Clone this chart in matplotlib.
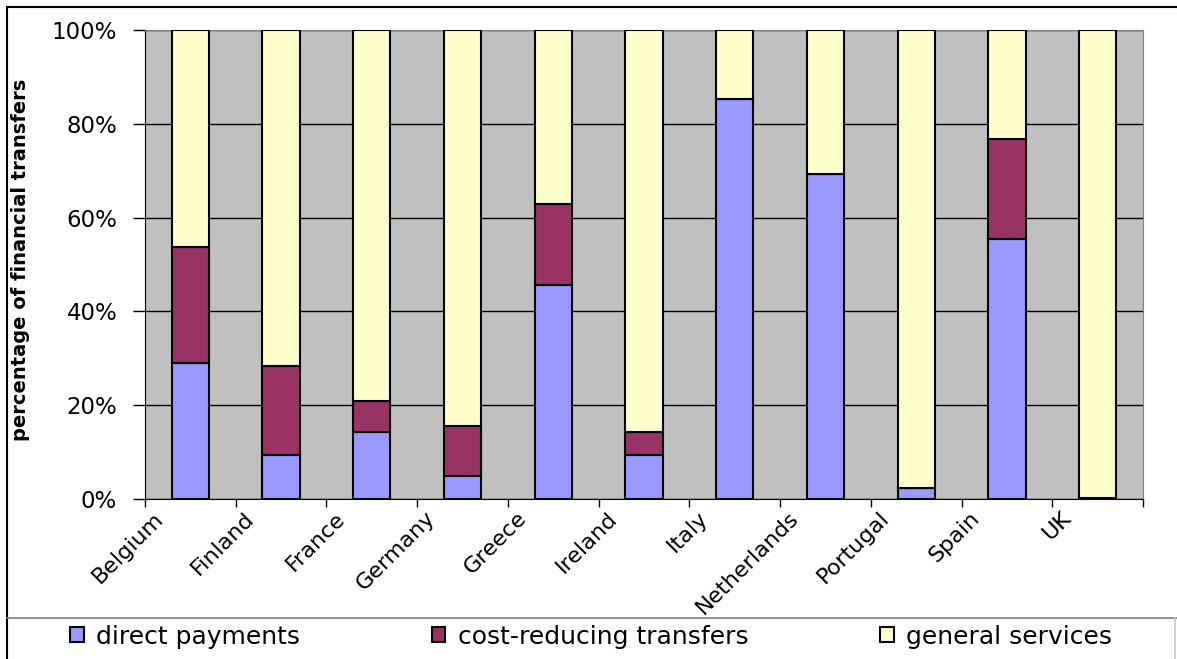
import numpy as np
import matplotlib
matplotlib.use("Agg")
import matplotlib.pyplot as plt
import matplotlib.transforms as mtransforms
from matplotlib.patches import Rectangle
from matplotlib.lines import Line2D

plt.rcParams['font.family'] = ['DejaVu Sans']

countries = ['Belgium', 'Finland', 'France', 'Germany', 'Greece', 'Ireland',
             'Italy', 'Netherlands', 'Portugal', 'Spain', 'UK']
direct_payments = [29.1, 9.4, 14.3, 4.9, 45.6, 9.4, 85.2, 69.4, 2.4, 55.4, 0.0]
cost_reducing = [24.6, 19.0, 6.7, 10.7, 17.3, 4.9, 0.0, 0.0, 0.0, 21.3, 0.3]
general_services = [100 - d - c for d, c in zip(direct_payments, cost_reducing)]

series_names = ['direct payments', 'cost-reducing transfers', 'general services']
colors = ['#9999FF', '#993366', '#FFFFCC']

W, H = 1177, 659
fig = plt.figure(figsize=(W/100, H/100), dpi=100)
ax = fig.add_axes([145/W, 1 - 499/H, (1143 - 145)/W, (499 - 30)/H])
ax.set_facecolor('#C0C0C0')

x = np.arange(len(countries))
bottom = np.zeros(len(countries))
handles = []
for vals, col, name in zip([direct_payments, cost_reducing, general_services], colors, series_names):
    b = ax.bar(x, vals, width=0.41, bottom=bottom, color=col, edgecolor='black',
               linewidth=1.5, label=name, zorder=3)
    handles.append(b)
    bottom += np.array(vals)

ax.set_xlim(-0.5, len(countries) - 0.5)
ax.set_ylim(0, 100)
ax.set_yticks(range(0, 101, 20))
ax.set_yticklabels([f'{v}%' for v in range(0, 101, 20)], fontsize=16.5)
ax.yaxis.grid(True, color='black', linewidth=1, zorder=1)
ax.set_axisbelow(True)
ax.tick_params(axis='y', direction='out', length=9, width=1, pad=11)

# category boundaries carry the tick marks, labels sit at the centres
ax.set_xticks(np.arange(-0.5, len(countries) + 0.5, 1))
ax.set_xticklabels([])
ax.tick_params(axis='x', direction='out', length=6, width=1, color='black')
offset = mtransforms.ScaledTranslation(-23/100, -9/100, fig.dpi_scale_trans)
for i, name in enumerate(countries):
    ax.text(i, 0, name, rotation=45, ha='right', va='top', fontsize=16,
            transform=ax.get_xaxis_transform() + offset)

ax.set_ylabel('percentage of financial transfers', fontsize=14, fontweight='bold')
ax.yaxis.set_label_coords((30 - 145)/(1143 - 145), 0.51)

for side in ['top', 'right']:
    ax.spines[side].set_color('#808080')
ax.spines['left'].set_color('black')
ax.spines['bottom'].set_color('black')

# outer chart frame and legend divider
fig.add_artist(Rectangle((7/W, -0.01), 1.05, (H - 7)/H + 0.01, transform=fig.transFigure,
                         fill=False, edgecolor='black', linewidth=1.5))
fig.add_artist(Line2D([7/W, 1], [1 - 618/H] * 2, transform=fig.transFigure,
                      color='#808080', linewidth=1.2))
fig.add_artist(Line2D([1175/W, 1175/W], [0, 1 - 618/H], transform=fig.transFigure,
                      color='#C8C8C8', linewidth=1.2))

fig.legend(handles=handles, labels=series_names, loc='center left', ncol=3,
           bbox_to_anchor=(60/W, 1 - 637/H, (1122 - 60)/W, 0.001), mode='expand',
           frameon=False, fontsize=18, handlelength=0.55, handleheight=0.55,
           handletextpad=0.5, borderaxespad=0)

fig.savefig('out.png', dpi=100)
